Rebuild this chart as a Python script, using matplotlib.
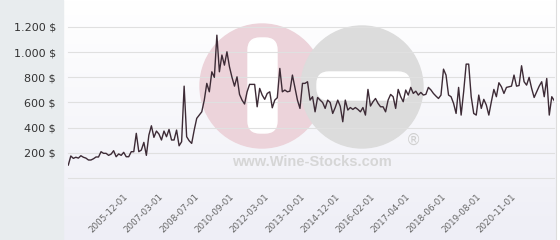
import matplotlib.pyplot as plt
import numpy as np
from matplotlib.patches import Circle, FancyBboxPatch, Rectangle

# prix moyen (en $) par relevé
prix = [
    103, 175, 156, 165, 158, 177, 165, 158, 143, 143,
    153, 167, 167, 209, 196, 196, 180, 190, 217, 169,
    191, 180, 204, 169, 169, 209, 209, 355, 209, 222,
    283, 180, 341, 415, 323, 373, 349, 302, 373, 328,
    386, 302, 302, 381, 256, 288, 730, 328, 296, 275,
    381, 474, 500, 526, 619, 752, 685, 844, 800, 1135,
    844, 977, 897, 1003, 884, 800, 730, 804, 664, 619,
    588, 685, 744, 744, 744, 566, 712, 659, 625, 672,
    685, 558, 619, 638, 871, 685, 699, 685, 690, 818,
    720, 619, 553, 752, 752, 765, 619, 646, 526, 640,
    619, 600, 553, 619, 600, 513, 560, 619, 570, 447,
    619, 540, 560, 545, 560, 545, 526, 560, 500, 704,
    572, 606, 632, 593, 566, 566, 526, 619, 664, 646,
    553, 704, 646, 606, 699, 659, 720, 672, 690, 659,
    680, 659, 665, 720, 700, 672, 651, 632, 659, 865,
    818, 659, 646, 593, 513, 720, 500, 685, 905, 905,
    646, 513, 500, 659, 553, 625, 580, 500, 606, 704,
    646, 757, 725, 672, 720, 725, 730, 818, 730, 735,
    892, 765, 738, 800, 712, 640, 685, 730, 765, 646,
    791, 500, 646, 614,
]

dates_ticks = ["2005-12-01", "2007-03-01", "2008-07-01", "2010-09-01",
               "2012-03-01", "2013-10-01", "2014-12-01", "2016-02-01",
               "2017-04-01", "2018-06-01", "2019-08-01", "2020-11-01"]
premier_tick = 22
pas_tick = 14

y_ticks = [200, 400, 600, 800, 1000, 1200]
y_labels = ["200 $", "400 $", "600 $", "800 $", "1.000 $", "1.200 $"]

fig = plt.figure(figsize=(5.6, 2.4), dpi=100)

# fond : degrade + bandeau gauche + filigrane (coordonnees en pixels)
bg = fig.add_axes([0, 0, 1, 1], zorder=0)
bg.set_xlim(0, 560)
bg.set_ylim(240, 0)
bg.axis("off")
grad = np.linspace(0, 1, 100).reshape(-1, 1)
haut = np.array([1.0, 1.0, 1.0])
bas = np.array([0.935, 0.935, 0.965])
img = haut + grad[..., None] * (bas - haut)
img = np.repeat(img, 2, axis=1)
bg.imshow(img, extent=[63, 556, 240, 0], aspect="auto", zorder=0)
bg.add_patch(Rectangle((0, 0), 63, 240, color="#e8ecee", zorder=1))
bg.plot([556, 556], [0, 240], color="#dddddd", lw=0.8, zorder=1)

bg.add_patch(Circle((262, 86), 62, color="#ecd3da", zorder=2))
bg.add_patch(Circle((362, 87), 61, color="#dcdcdc", zorder=3))
bg.add_patch(FancyBboxPatch((250, 40), 25, 91, boxstyle="round,pad=2,rounding_size=12",
                            color="white", zorder=4))
bg.add_patch(FancyBboxPatch((319, 74), 89, 24, boxstyle="round,pad=2,rounding_size=12",
                            color="white", zorder=4))
bg.text(312, 162, "www.Wine-Stocks.com", ha="center", va="center", fontsize=10.5,
        fontweight="bold", family="Liberation Sans", color="#d6d6d6", zorder=4)
bg.text(413, 140, "®", ha="center", va="center", fontsize=11,
        color="#d0d0d0", zorder=4)

# graphique
ax = fig.add_axes([68.3 / 560, 62 / 240, 486 / 560, 151 / 240], zorder=1)
ax.patch.set_alpha(0)
x = np.arange(len(prix))
ax.plot(x, prix, color="#3d2b36", lw=1.0, zorder=3)

ax.set_xlim(0, len(prix) - 1)
ax.set_ylim(0, 1200)
ax.set_yticks(y_ticks)
ax.set_yticklabels(y_labels, fontsize=8, color="#333333")
ax.set_xticks([premier_tick + pas_tick * i for i in range(len(dates_ticks))])
ax.set_xticklabels(dates_ticks, fontsize=6.3, color="#666666", rotation=45,
                   ha="right", va="top", rotation_mode="anchor")
ax.tick_params(axis="both", length=0)
ax.tick_params(axis="y", pad=9)
ax.tick_params(axis="x", pad=10)
for s in ax.spines.values():
    s.set_visible(False)
for v in [0] + y_ticks:
    ax.axhline(v, color="#e0e0e0", lw=0.8, zorder=1, clip_on=False)

plt.savefig("out.png", dpi=100)
